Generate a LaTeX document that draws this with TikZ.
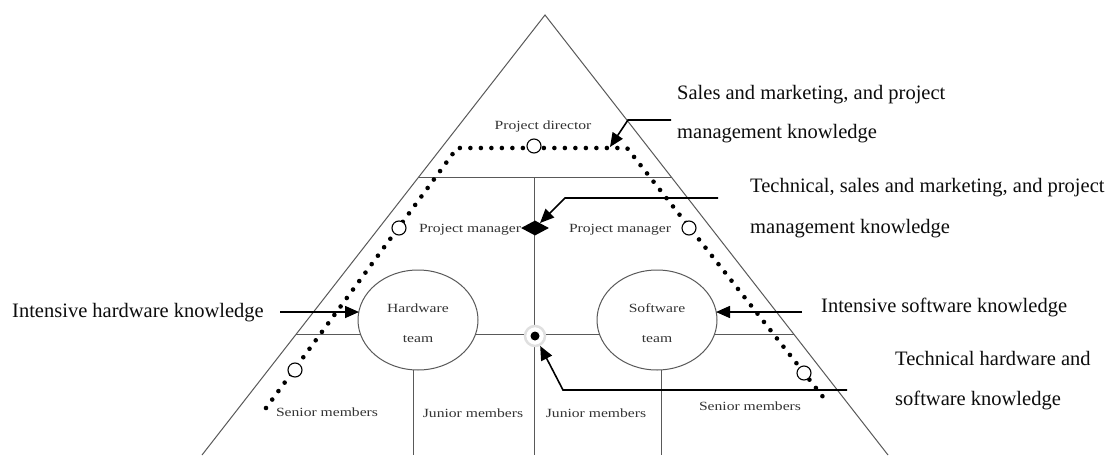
\documentclass[tikz,border=0pt]{standalone}
\usepackage{fontspec}
\setmainfont{Liberation Serif}
\newfontfamily\smallserif[FakeStretch=1.25]{Liberation Serif}
\usetikzlibrary{arrows.meta,shapes.geometric,calc}
\begin{document}
\begin{tikzpicture}[x=1pt,y=-1pt,
 edge/.style={draw=black!65,line width=1pt},
 arr/.style={draw=black,line width=1.6pt,-{Triangle[length=14pt,width=12pt]}},
 big/.style={font=\fontsize{20.5}{24}\selectfont,text=black!95,anchor=base west,inner sep=0pt},
 lbl/.style={font=\smallserif\fontsize{12.5}{15}\selectfont,text=black!80,anchor=base,inner sep=0pt},
 team/.style={ellipse,draw=black!65,line width=1pt,minimum width=120pt,minimum height=100pt,inner sep=0pt,fill=white},
 ring/.style={circle,draw=black,line width=1.1pt,fill=white,minimum size=14pt,inner sep=0pt},
 dots/.style={draw=black,line width=4.6pt,line cap=round,dash pattern=on 0pt off 10.5pt}]
\useasboundingbox (0,0) rectangle (1116,455);
\fill[white] (0,0) rectangle (1116,455);
% pyramid
\coordinate (apex) at (545,15);
\coordinate (bl) at (202,455);
\coordinate (br) at (888,455);
\draw[edge] (bl) -- (apex) -- (br);
\coordinate (l1) at (418.7,177);
\coordinate (r1) at (671.3,177);
\draw[edge] (l1) -- (r1);
\coordinate (vt) at (534,177);
\coordinate (vb) at (534,455);
\draw[edge] (vt) -- (vb);
\coordinate (l2) at (296.3,334);
\coordinate (r2) at (793.7,334);
\draw[edge] (l2) -- (r2);
\coordinate (hwt) at (413,360);
\coordinate (hwb) at (413,455);
\coordinate (swt) at (661,360);
\coordinate (swb) at (661,455);
\draw[edge] (hwt) -- (hwb);
\draw[edge] (swt) -- (swb);
% teams
\node[team] (hw) at (418,320) {};
\node[team] (sw) at (657,320) {};
\node[lbl] (hw1) at (418,312) {Hardware};
\node[lbl] (hw2) at (418,342) {team};
\node[lbl] (sw1) at (657,312) {Software};
\node[lbl] (sw2) at (657,342) {team};
% dotted path
\coordinate (d1) at (266,408);
\coordinate (d2) at (457,148);
\coordinate (d3) at (627,148);
\coordinate (d4) at (827,402);
\draw[dots] (d1) -- (d2) -- (d3) -- (d4);
\node[ring] (c1) at (534,146) {};
\node[ring] (c2) at (399,228) {};
\node[ring] (c3) at (689,228) {};
\node[ring] (c4) at (295,370) {};
\node[ring] (c5) at (804,373) {};
% diamond and centre dot
\node[diamond,fill=black,minimum width=28pt,minimum height=15pt,inner sep=0pt] (pm) at (535,228) {};
\node[circle,fill=white,draw=black!12,line width=2.5pt,minimum size=20pt,inner sep=0pt] (cdot) at (535,336) {};
\fill[black] (cdot.center) circle (4.5pt);
% small labels
\node[lbl] (pd) at (543,129) {Project director};
\node[lbl] (pml) at (470,232) {Project manager};
\node[lbl] (pmr) at (620,232) {Project manager};
\node[lbl] (sml) at (327,416) {Senior members};
\node[lbl] (jml) at (473,417) {Junior members};
\node[lbl] (jmr) at (596,417) {Junior members};
\node[lbl] (smr) at (750,410) {Senior members};
% big labels
\node[big] (t1a) at (677,99) {Sales and marketing, and project};
\node[big] (t1b) at (677,138) {management knowledge};
\node[big] (t2a) at (750,192) {Technical, sales and marketing, and project};
\node[big] (t2b) at (750,233) {management knowledge};
\node[big] (t3) at (12,317) {Intensive hardware knowledge};
\node[big] (t4) at (821,312) {Intensive software knowledge};
\node[big] (t5a) at (895,365) {Technical hardware and};
\node[big] (t5b) at (895,405) {software knowledge};
% arrows
\coordinate (a1s) at (671,120);
\coordinate (a1m) at (628,120);
\coordinate (a1e) at (610,147);
\draw[arr] (a1s) -- (a1m) -- (a1e);
\coordinate (a2s) at (718,198);
\coordinate (a2m) at (565,198);
\draw[arr] (a2s) -- (a2m) -- (pm);
\coordinate (a3s) at (280,312);
\coordinate (a3e) at (359,312);
\draw[arr] (a3s) -- (a3e);
\coordinate (a4s) at (802,312);
\coordinate (a4e) at (716,312);
\draw[arr] (a4s) -- (a4e);
\coordinate (a5s) at (847,390);
\coordinate (a5m) at (563,390);
\draw[arr] (a5s) -- (a5m) -- (cdot);
\end{tikzpicture}
\end{document}
